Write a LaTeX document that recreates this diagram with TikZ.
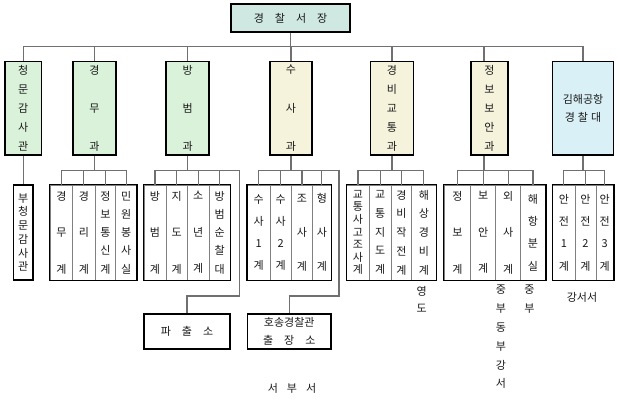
\documentclass[tikz,border=0pt]{standalone}
\usepackage{fontspec}
\setmainfont{Noto Sans CJK KR}
\usetikzlibrary{fit}
\definecolor{linegray}{HTML}{707070}
\definecolor{divgray}{HTML}{808080}
\definecolor{txt}{HTML}{1A1A1A}
\definecolor{fteal}{HTML}{CFE8E2}
\definecolor{fgreen}{HTML}{DAF2DA}
\definecolor{fyellow}{HTML}{F6F3DD}
\definecolor{fcyan}{HTML}{D8F0F6}
\newcommand\mkcol[5]{\node[colst, minimum width={#3-#2}, vt=#4] (#1) at ({(#2+#3)/2},232.5) {#5};}
\newcommand\gap{\hspace{11pt}}
\begin{document}
\begin{tikzpicture}[x=1pt,y=-1pt,
  conn/.style={draw=linegray, line width=1.2pt},
  lv1/.style={draw=black, line width=1.5pt, inner sep=0pt, minimum height=93.3pt, text=txt, align=center},
  vt/.style={font=\fontsize{11}{#1}\selectfont},
  colst/.style={draw=divgray, line width=0.9pt, fill=white, inner sep=0pt, minimum height=95pt, align=center, text=txt},
  grp/.style={draw=black, line width=1.5pt, inner sep=0pt},
  wbox/.style={draw=black, line width=1.5pt, fill=white, inner sep=0pt, minimum height=35pt, align=center, text=txt, font=\fontsize{11}{18.4}\selectfont},
  lbl/.style={text=txt, inner sep=0pt, align=center}
]
\fill[white] (0,0) rectangle (620,409);
\useasboundingbox (0,0) rectangle (620,409);

% top
\node[draw=black, line width=1.5pt, fill=fteal, minimum width=119pt, minimum height=28pt, inner sep=0pt, text=txt, font=\fontsize{11}{12}\selectfont] (chief) at (290.5,18) {경\gap 찰\gap 서\gap 장};

% level 1
\node[lv1, fill=fgreen, minimum width=36.7pt, vt=19.2] (cm) at (23.3,108.3) {청\\문\\감\\사\\관};
\node[lv1, fill=fgreen, minimum width=43.3pt, vt=38.3] (km) at (94.4,108.3) {경\\무\\과};
\node[lv1, fill=fgreen, minimum width=43pt, vt=38.3] (bb) at (187.7,108.3) {방\\범\\과};
\node[lv1, fill=fyellow, minimum width=42pt, vt=38.3] (ss) at (291,108.3) {수\\사\\과};
\node[lv1, fill=fyellow, minimum width=43pt, vt=19.2] (kb) at (392,108.3) {경\\비\\교\\통\\과};
\node[lv1, fill=fyellow, minimum width=37pt, vt=19.2] (jb) at (489.5,108.3) {정\\보\\보\\안\\과};
\node[lv1, fill=fcyan, minimum width=60.6pt, vt=18.6] (gh) at (583,108.3) {김해공항\\경\hspace{3pt}찰\hspace{3pt}대};

% bus
\coordinate (busy) at (0,46.7);
\draw[conn] (chief.south) -- (chief.south |- busy);
\draw[conn] (cm.north) -- (cm.north |- busy) -- (gh.north |- busy) -- (gh.north);
\foreach \n in {km,bb,ss,kb}{\draw[conn] (\n.north) -- (\n.north |- busy);}
\draw[conn] ([xshift=-5.5pt]jb.north) -- ([xshift=-5.5pt]jb.north |- busy);

% sub columns
\node[colst, draw=black, line width=1.5pt, minimum width=19.4pt, vt=13.7] (bcm) at (23.3,232.5) {부\\청\\문\\감\\사\\관};

\mkcol{km1}{50}{72.7}{36.6}{경\\무\\계}
\mkcol{km2}{72.7}{95}{36.6}{경\\리\\계}
\mkcol{km3}{95}{115.7}{18.3}{정\\보\\통\\신\\계}
\mkcol{km4}{115.7}{136.7}{18.3}{민\\원\\봉\\사\\실}
\node[grp, fit=(km1)(km4)] (kmg) {};

\mkcol{bb1}{144}{166}{36.6}{방\\범\\계}
\mkcol{bb2}{166}{187.3}{36.6}{지\\도\\계}
\mkcol{bb3}{187.3}{209.3}{36.6}{소\\년\\계}
\mkcol{bb4}{209.3}{230}{18.3}{방\\범\\순\\찰\\대}
\node[grp, fit=(bb1)(bb4)] (bbg) {};

\mkcol{ss1}{247.3}{270}{22.2}{수\\사\\1\\계}
\mkcol{ss2}{270}{291.3}{22.2}{수\\사\\2\\계}
\mkcol{ss3}{291.3}{312.7}{34}{조\\사\\계}
\mkcol{ss4}{312.7}{331}{34}{형\\사\\계}
\node[grp, fit=(ss1)(ss4)] (ssg) {};

\mkcol{kb1}{346.7}{369.3}{12.6}{교\\통\\사\\고\\조\\사\\계}
\mkcol{kb2}{369.3}{391}{18.8}{교\\통\\지\\도\\계}
\mkcol{kb3}{391}{411.7}{18.8}{경\\비\\작\\전\\계}
\mkcol{kb4}{411.7}{436}{18.8}{해\\상\\경\\비\\계}
\node[grp, fit=(kb1)(kb4)] (kbg) {};

\mkcol{jb1}{444}{470.7}{36.6}{정\\보\\계}
\mkcol{jb2}{470.7}{495.7}{36.6}{보\\안\\계}
\mkcol{jb3}{495.7}{520.7}{36.6}{외\\사\\계}
\mkcol{jb4}{520.7}{545.3}{22.3}{해\\항\\분\\실}
\node[grp, fit=(jb1)(jb4)] (jbg) {};

\mkcol{gh1}{552.7}{575}{22.3}{안\\전\\1\\계}
\mkcol{gh2}{575}{596}{22.3}{안\\전\\2\\계}
\mkcol{gh3}{596}{613.3}{22.3}{안\\전\\3\\계}
\node[grp, fit=(gh1)(gh3)] (ghg) {};

% lower boxes
\node[wbox, minimum width=86pt] (pcs) at (187,331.5) {파\gap 출\gap 소};
\node[wbox, minimum width=83.7pt] (hs) at (289.2,331.5) {호송경찰관\\출\gap 장\gap 소};

% brackets
\coordinate (brk) at (0,170.7);
\draw[conn] (cm.south) -- (bcm.north);

\draw[conn] (km.south) -- (km.south |- brk);
\draw[conn] (km1.north) -- (km1.north |- brk) -- (km4.north |- brk) -- (km4.north);
\foreach \n in {km2,km3}{\draw[conn] (\n.north) -- (\n.north |- brk);}

\coordinate (bbR1) at (239.3,170.7);
\coordinate (bbR2) at (239.3,296);
\draw[conn] (bb.south) -- (bb.south |- brk);
\draw[conn] (bb1.north) -- (bb1.north |- brk) -- (bbR1) -- (bbR2) -- (pcs.north |- bbR2) -- (pcs.north);
\foreach \n in {bb2,bb3,bb4}{\draw[conn] (\n.north) -- (\n.north |- brk);}

\coordinate (ssR1) at (339,170.7);
\coordinate (ssR2) at (339,296);
\draw[conn] (ss.south) -- (ss.south |- brk);
\draw[conn] (ss1.north) -- (ss1.north |- brk) -- (ssR1) -- (ssR2) -- (hs.north |- ssR2) -- (hs.north);
\foreach \n in {ss2,ss3,ss4}{\draw[conn] (\n.north) -- (\n.north |- brk);}

\draw[conn] (kb.south) -- (kb.south |- brk);
\draw[conn] (kb1.north) -- (kb1.north |- brk) -- (kb4.north |- brk) -- (kb4.north);
\foreach \n in {kb2,kb3}{\draw[conn] (\n.north) -- (\n.north |- brk);}

\draw[conn] ([xshift=-5.5pt]jb.south) -- ([xshift=-5.5pt]jb.south |- brk);
\draw[conn] (jb1.north) -- (jb1.north |- brk) -- (jb4.north |- brk) -- (jb4.north);
\foreach \n in {jb2,jb3}{\draw[conn] (\n.north) -- (\n.north |- brk);}

\draw[conn] (gh.south) -- (gh.south |- brk);
\draw[conn] (gh1.north) -- (gh1.north |- brk) -- (gh3.north |- brk) -- (gh3.north);
\draw[conn] (gh2.north) -- (gh2.north |- brk);

% labels
\node[lbl, font=\fontsize{11}{17}\selectfont] (ydo) at (421.7,299) {영\\도};
\node[lbl, font=\fontsize{11}{18.8}\selectfont] (jbdb) at (501,337) {중\\부\\동\\부\\강\\서};
\node[lbl, font=\fontsize{11}{18.8}\selectfont] (jbu) at (529.5,299.4) {중\\부};
\node[lbl, font=\fontsize{11}{12}\selectfont] (gss) at (582,297) {강서서};
\node[lbl, font=\fontsize{11}{12}\selectfont] (sbs) at (292,388) {서\hspace{9pt}부\hspace{9pt}서};
\end{tikzpicture}
\end{document}
